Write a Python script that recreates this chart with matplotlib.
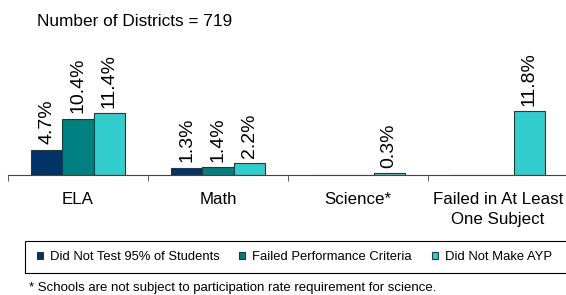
import matplotlib.pyplot as plt
import matplotlib.patches as patches
import numpy as np

plt.rcParams['font.family'] = ['Liberation Sans', 'DejaVu Sans']

# data
categories = ['ELA', 'Math', 'Science*', 'Failed in At Least\nOne Subject']
not_tested = [4.7, 1.3, np.nan, np.nan]
failed_perf = [10.4, 1.4, np.nan, np.nan]
not_ayp = [11.4, 2.2, 0.3, 11.8]
series_names = ['Did Not Test 95% of Students', 'Failed Performance Criteria', 'Did Not Make AYP']
colors = ['#003366', '#008080', '#33CCCC']

fig = plt.figure(figsize=(5.66, 2.95), dpi=100)
ax = fig.add_axes([8 / 566, 120 / 295, 560 / 566, 135 / 295])

x = np.arange(len(categories))
width = 0.222
for i, vals in enumerate([not_tested, failed_perf, not_ayp]):
    pos = x + (i - 1) * width
    ax.bar(pos, np.nan_to_num(vals), width, color=colors[i],
           edgecolor='#333333', linewidth=0.8, label=series_names[i])
    for p, v in zip(pos, vals):    # value labels, skip empty bars
        if np.isnan(v):
            continue
        ax.annotate(f'{v:.1f}%', (p, v), xytext=(0, 4), textcoords='offset points',
                    rotation=90, ha='center', va='bottom', fontsize=14,
                    annotation_clip=False)

ax.set_xlim(-0.5, len(categories) - 0.5)
ax.set_ylim(0, 25)
ax.set_yticks([])
for s in ['left', 'right', 'top']:
    ax.spines[s].set_visible(False)
ax.spines['bottom'].set_color('#444444')

ax.set_xticks(x)
ax.set_xticklabels(categories, fontsize=12.2, linespacing=1.45)
ax.tick_params(axis='x', length=0, pad=12)
ax.set_xticks(np.arange(len(categories) + 1) - 0.5, minor=True)   # tick marks between groups
ax.tick_params(axis='x', which='minor', length=4, color='#444444', direction='out')

fig.text(37 / 566, 1 - 21 / 295, 'Number of Districts = 719', fontsize=12.4, va='center')

# legend box runs past the right edge in the original
handles, labels = ax.get_legend_handles_labels()
leg = fig.legend(handles, labels, loc='center left', bbox_to_anchor=(37 / 566, 1 - 257 / 295),
                 ncol=3, fontsize=9.4, handlelength=0.45, handleheight=0.45,
                 handletextpad=0.55, columnspacing=1.5, borderpad=0, borderaxespad=0,
                 frameon=False)
fig.patches.append(patches.Rectangle((25 / 566, 1 - 273 / 295), 560 / 566, 32 / 295,
                                     transform=fig.transFigure, fill=False,
                                     edgecolor='black', linewidth=0.8))

fig.text(29 / 566, 1 - 288 / 295, '* Schools are not subject to participation rate requirement for science.',
         fontsize=9.5, va='center')

fig.savefig('out.png', dpi=100)
